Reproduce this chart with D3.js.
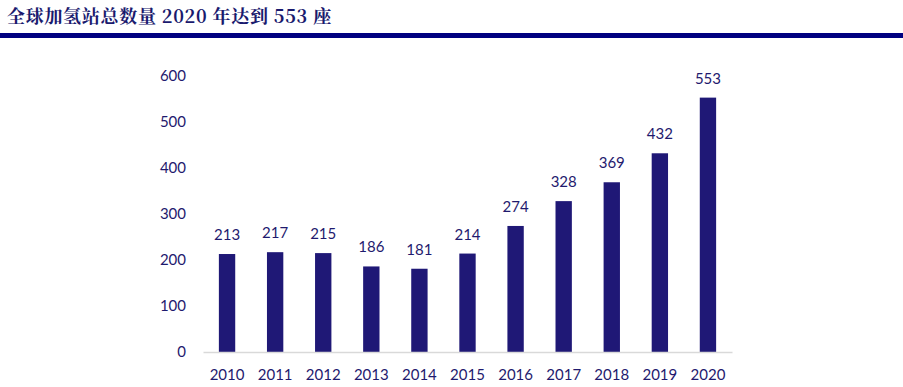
<!DOCTYPE html>
<html>
<head>
<meta charset="utf-8">
<script src="https://cdn.jsdelivr.net/npm/d3@7"></script>
<style>
  body { margin: 0; background: #fff; }
  svg { display: block; }
</style>
</head>
<body>
<svg id="chart" width="903" height="387"></svg>
<script>
var years = ["2010", "2011", "2012", "2013", "2014", "2015", "2016", "2017", "2018", "2019", "2020"];
var stations = [213, 217, 215, 186, 181, 214, 274, 328, 369, 432, 553];
var yTicks = [0, 100, 200, 300, 400, 500, 600];
var title = "全球加氢站总数量 2020 年达到 553 座";

var data = years.map(function(y, i) { return {year: y, value: stations[i]}; });

var svg = d3.select("#chart"),
    margin = {top: 76, right: 171, bottom: 35, left: 203},
    width = +svg.attr("width") - margin.left - margin.right,
    height = +svg.attr("height") - margin.top - margin.bottom;

var textColor = "#1f1a6e",
    barColor = "#1f1876",
    font = "Lato, 'Open Sans', sans-serif";

// title + rule
svg.append("text")
    .attr("x", 7)
    .attr("y", 23)
    .attr("font-family", "'Noto Serif CJK SC', 'Noto Sans CJK SC', serif")
    .attr("font-weight", "bold")
    .attr("font-size", 18)
    .attr("letter-spacing", 0.7)
    .attr("fill", "#1a1a6e")
    .text(title);

svg.append("rect")
    .attr("x", 0)
    .attr("y", 33)
    .attr("width", 903)
    .attr("height", 5)
    .attr("fill", "#000080");

var g = svg.append("g").attr("transform", "translate(" + margin.left + "," + margin.top + ")");

var x = d3.scaleBand()
    .domain(years)
    .range([0, width])
    .paddingInner(0.66)
    .paddingOuter(0.33);

var y = d3.scaleLinear()
    .domain([0, 600])
    .range([height, 0]);

// bars
g.selectAll("rect.bar")
  .data(data)
  .enter().append("rect")
    .attr("class", "bar")
    .attr("x", function(d) { return x(d.year); })
    .attr("y", function(d) { return y(d.value); })
    .attr("width", x.bandwidth())
    .attr("height", function(d) { return height - y(d.value); })
    .attr("fill", barColor);

// value labels
g.selectAll("text.val")
  .data(data)
  .enter().append("text")
    .attr("class", "val")
    .attr("x", function(d) { return x(d.year) + x.bandwidth() / 2; })
    .attr("y", function(d) { return y(d.value) - 14; })
    .attr("text-anchor", "middle")
    .attr("font-family", font)
    .attr("font-size", 15)
    .attr("fill", textColor)
    .text(function(d) { return d.value; });

// y axis (labels only)
var yAxis = g.append("g")
    .call(d3.axisLeft(y).tickValues(yTicks).tickSize(0).tickPadding(17));
yAxis.select(".domain").remove();
yAxis.selectAll("text")
    .attr("font-family", font)
    .attr("font-size", 15)
    .attr("fill", textColor);

// x axis
var xAxis = g.append("g")
    .attr("transform", "translate(0," + height + ")")
    .call(d3.axisBottom(x).tickSize(0).tickPadding(17));
xAxis.select(".domain")
    .attr("stroke", "#d9d9d9")
    .attr("stroke-width", 1.5);
xAxis.selectAll("text")
    .attr("font-family", font)
    .attr("font-size", 15)
    .attr("fill", textColor);
</script>
</body>
</html>
